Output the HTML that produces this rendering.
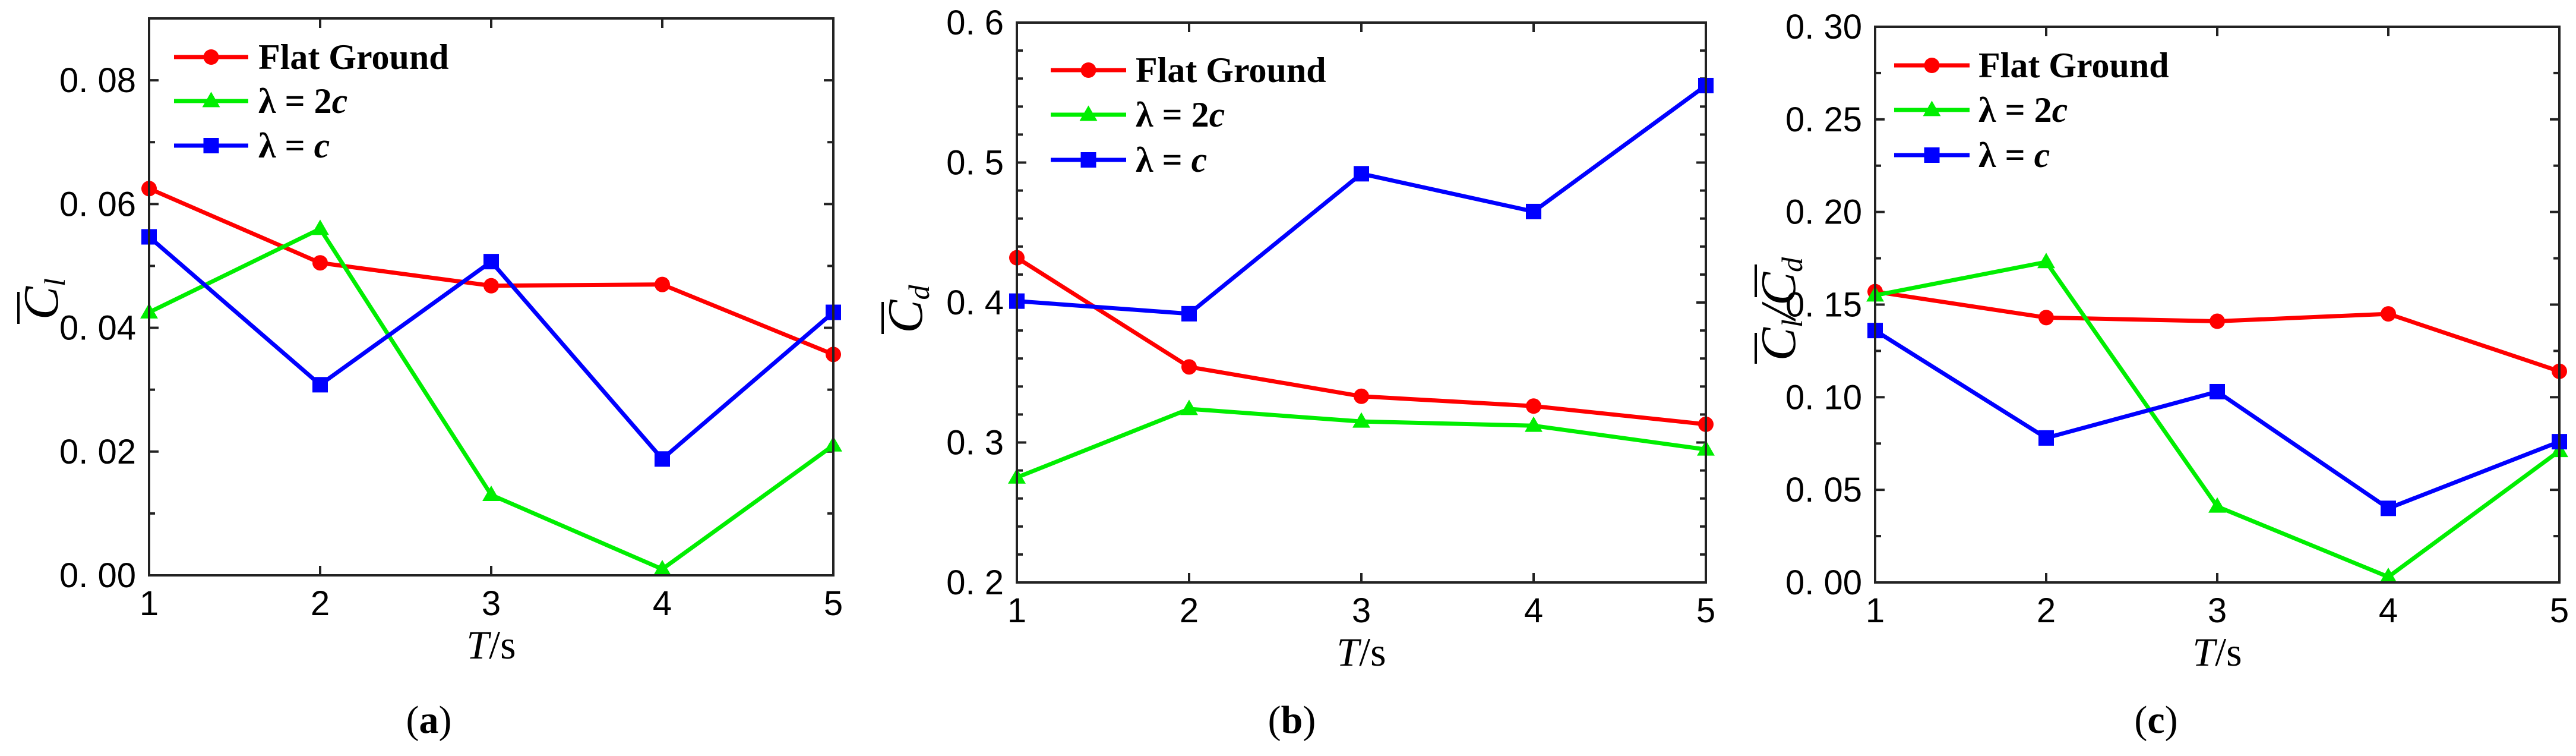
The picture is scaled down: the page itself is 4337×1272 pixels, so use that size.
<!DOCTYPE html>
<html><head><meta charset="utf-8"><style>
html,body{margin:0;padding:0;background:#fff;}
svg{display:block;}
</style></head><body>
<svg id="fig" xmlns="http://www.w3.org/2000/svg" width="4337" height="1272" viewBox="0 0 4337 1272"></svg>
<script>
const categories = [1, 2, 3, 4, 5];
const seriesNames = ["Flat Ground", "λ = 2c", "λ = c"];
const aFlat = [0.0625, 0.0505, 0.0468, 0.0470, 0.0357];
const a2c   = [0.0425, 0.0560, 0.0130, 0.0010, 0.0210];
const ac    = [0.0547, 0.0308, 0.0507, 0.0188, 0.0425];
const bFlat = [0.432, 0.354, 0.333, 0.326, 0.313];
const b2c   = [0.275, 0.324, 0.315, 0.312, 0.295];
const bc    = [0.401, 0.392, 0.492, 0.465, 0.555];
const cFlat = [0.157, 0.143, 0.141, 0.145, 0.114];
const c2c   = [0.155, 0.173, 0.041, 0.003, 0.071];
const cc    = [0.136, 0.078, 0.103, 0.040, 0.076];
const aTicks = ["0. 00","0. 02","0. 04","0. 06","0. 08"];
const bTicks = ["0. 2","0. 3","0. 4","0. 5","0. 6"];
const cTicks = ["0. 00","0. 05","0. 10","0. 15","0. 20","0. 25","0. 30"];

const NS = "http://www.w3.org/2000/svg";
const svg = document.getElementById("fig");
function mk(tag, attrs, parent, text) {
  const e = document.createElementNS(NS, tag);
  for (const k in attrs) e.setAttribute(k, attrs[k]);
  if (text !== undefined) e.textContent = text;
  (parent || svg).appendChild(e);
  return e;
}
const colors = ["#ff0000", "#00ee00", "#0000ff"];
const markers = ["circle", "triangle", "square"];

const panels = [
  {id:"a", L:251, R:1403, T:31, B:968, ymin:0, ymax:0.09, step:0.02, minor:0.01, ticks:aTicks, data:[aFlat,a2c,ac],
   leg:{x1:293,x2:418,tx:435,ys:[96,170,245]}, ylab:"l", ytx:97, ytc:503, lab:"(a)", labx:722},
  {id:"b", L:1712, R:2872, T:38, B:980, ymin:0.2, ymax:0.6, step:0.1, minor:0.02, ticks:bTicks, data:[bFlat,b2c,bc],
   leg:{x1:1769,x2:1896,tx:1912,ys:[118,193,269]}, ylab:"d", ytx:1552, ytc:520, lab:"(b)", labx:2175},
  {id:"c", L:3157, R:4309, T:45, B:980, ymin:0, ymax:0.3, step:0.05, minor:0.025, ticks:cTicks, data:[cFlat,c2c,cc],
   leg:{x1:3189,x2:3316,tx:3331,ys:[110,185,261]}, ylab:"ratio", ytx:3022, ytc:520, lab:"(c)", labx:3630}
];

function marker(g, type, x, y, color, s) {
  let m;
  if (type === "circle") m = mk("circle", {cx:x, cy:y, r:s, fill:color}, g);
  else if (type === "square") m = mk("rect", {x:x-s, y:y-s, width:2*s, height:2*s, fill:color}, g);
  else m = mk("polygon", {points:`${x},${y-s*1.2} ${x-s*1.15},${y+s*0.8} ${x+s*1.15},${y+s*0.8}`, fill:color}, g);
  return m;
}

panels.forEach(p => {
  const g = mk("g", {}, svg);
  
  
  const xs = v => p.L + (v - 1) / 4 * (p.R - p.L);
  const ys = v => p.B - (v - p.ymin) / (p.ymax - p.ymin) * (p.B - p.T);
  const tg = mk("g", {stroke:"#222", "stroke-width":4}, g);
  
  
  for (let v = p.ymin; v <= p.ymax + 1e-9; v += p.minor) {
    const y = ys(v);
    const major = Math.abs(((v - p.ymin) / p.step) - Math.round((v - p.ymin) / p.step)) < 1e-6;
    const len = major ? 16 : 10;
    mk("line", {x1:p.L, y1:y, x2:p.L+len, y2:y}, tg);
    mk("line", {x1:p.R, y1:y, x2:p.R-len, y2:y}, tg);
  }
  categories.forEach(c => {
    mk("line", {x1:xs(c), y1:p.T, x2:xs(c), y2:p.T+16}, tg);
    mk("line", {x1:xs(c), y1:p.B, x2:xs(c), y2:p.B-16}, tg);
  });
  p.ticks.forEach((t, i) => {
    const v = p.ymin + i * p.step;
    const tx = mk("text", {x:p.L-22, y:ys(v)+20, "text-anchor":"end", "font-family":"Liberation Sans, sans-serif", "font-size":58, fill:"#000"}, g, t);
    
    
  });
  categories.forEach(c => {
    const tx = mk("text", {x:xs(c), y:p.B+67, "text-anchor":"middle", "font-family":"Liberation Sans, sans-serif", "font-size":58, fill:"#000"}, g, String(c));
    
    
  });
  p.data.forEach((d, si) => {
    const sg = mk("g", {}, g);
    
    
    const pts = d.map((v, i) => xs(categories[i]) + "," + ys(v)).join(" ");
    mk("polyline", {points:pts, fill:"none", stroke:colors[si], "stroke-width":7, "stroke-linejoin":"round"}, sg);
    d.forEach((v, i) => {
      const m = marker(sg, markers[si], xs(categories[i]), ys(v), colors[si], 13);
      
      
    });
  });
  const fr = mk("rect", {x:p.L, y:p.T, width:p.R-p.L, height:p.B-p.T, fill:"none", stroke:"#222", "stroke-width":4}, g);
  
  
  const lg = mk("g", {}, g);
  
  
  p.leg.ys.forEach((y, si) => {
    const eg = mk("g", {}, lg);
    
    
    mk("line", {x1:p.leg.x1, y1:y, x2:p.leg.x2, y2:y, stroke:colors[si], "stroke-width":7}, eg);
    marker(eg, markers[si], (p.leg.x1+p.leg.x2)/2, y, colors[si], 13);
    const t = mk("text", {x:p.leg.tx, y:y+20, "font-family":"Liberation Serif, serif", "font-size":60, "font-weight":"bold", fill:"#000"}, eg);
    if (si === 0) t.textContent = "Flat Ground";
    else {
      mk("tspan", {}, t, si === 1 ? "λ = 2" : "λ = ");
      mk("tspan", {"font-style":"italic"}, t, "c");
    }
  });
  const xt = mk("text", {x:(p.L+p.R)/2, y:p.B+140, "text-anchor":"middle", "font-family":"Liberation Serif, serif", "font-size":68, fill:"#000"}, g);
  
  
  mk("tspan", {"font-style":"italic"}, xt, "T");
  mk("tspan", {}, xt, "/s");
  const ytg = mk("g", {transform:`translate(${p.ytx},${p.ytc}) rotate(-90)`}, g);
  
  
  const fs = 84;
  if (p.ylab === "ratio") {
    const t = mk("text", {x:0, y:0, "text-anchor":"middle", "font-family":"Liberation Serif, serif", "font-size":fs, "font-style":"italic"}, ytg);
    mk("tspan", {}, t, "C");
    mk("tspan", {"font-size":50, dy:12}, t, "l");
    mk("tspan", {dy:-12}, t, "/C");
    mk("tspan", {"font-size":50, dy:12}, t, "d");
    mk("line", {x1:-92, y1:-66, x2:-40, y2:-66, stroke:"#000", "stroke-width":4}, ytg);
    mk("line", {x1:20, y1:-66, x2:75, y2:-66, stroke:"#000", "stroke-width":4}, ytg);
  } else {
    const t = mk("text", {x:0, y:0, "text-anchor":"middle", "font-family":"Liberation Serif, serif", "font-size":fs, "font-style":"italic"}, ytg);
    mk("tspan", {}, t, "C");
    mk("tspan", {"font-size":50, dy:12}, t, p.ylab);
    mk("line", {x1:-42, y1:-66, x2:12, y2:-66, stroke:"#000", "stroke-width":4}, ytg);
  }
  const pl = mk("text", {x:p.labx, y:1233, "text-anchor":"middle", "font-family":"Liberation Serif, serif", "font-size":66, fill:"#000"}, g);
  
  
  mk("tspan", {}, pl, "(");
  mk("tspan", {"font-weight":"bold"}, pl, p.id);
  mk("tspan", {}, pl, ")");
});
</script>
</body></html>
